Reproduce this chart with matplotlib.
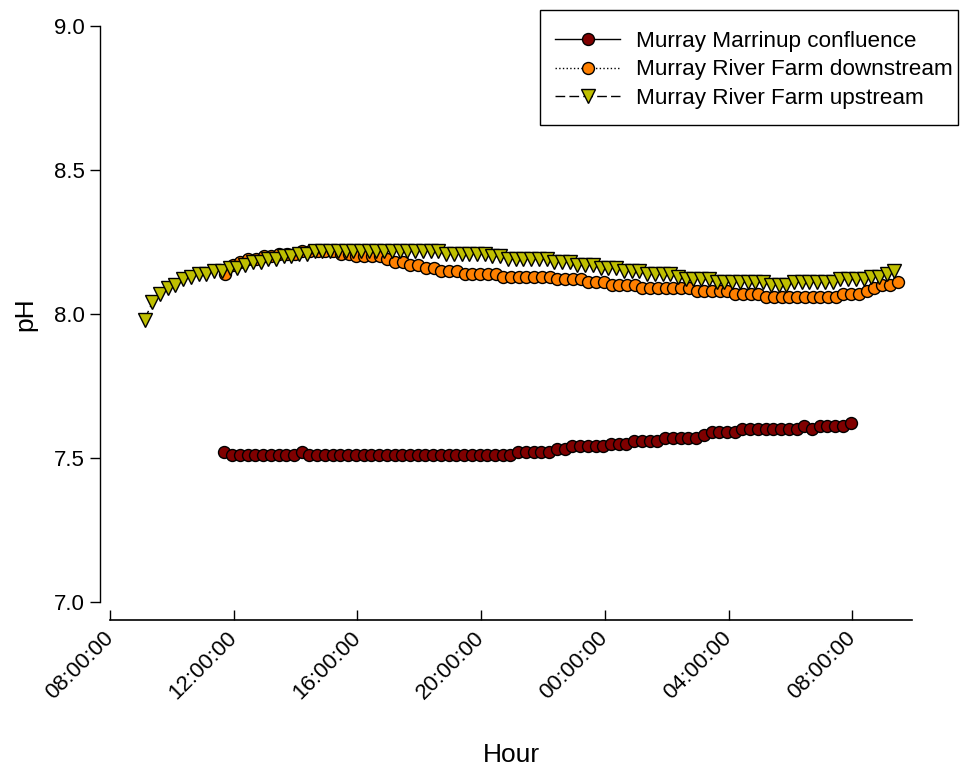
import matplotlib
matplotlib.use("Agg")
import matplotlib.pyplot as plt
import matplotlib.dates as mdates
from matplotlib.patches import Rectangle
import pandas as pd

plt.rcParams['font.family'] = ['Liberation Sans', 'DejaVu Sans']

# pH logged every 15 minutes at three Murray River sites
confluence_start = "2020-01-01 11:42"
confluence_ph = (
    [7.52] + [7.51] * 9 + [7.52] + [7.51] * 27 + [7.52] * 5 + [7.53] * 2
    + [7.54] * 5 + [7.55] * 3 + [7.56] * 4 + [7.57] * 5 + [7.58] + [7.59] * 4
    + [7.60] * 8 + [7.61] + [7.60] + [7.61] * 4 + [7.62]
)

downstream_start = "2020-01-01 11:43"
downstream_ph = (
    [8.14, 8.17, 8.18, 8.19, 8.19, 8.20, 8.20, 8.21, 8.21, 8.21]
    + [8.22] * 5 + [8.21] * 2 + [8.20] * 4 + [8.19] + [8.18] * 2 + [8.17] * 2
    + [8.16] * 2 + [8.15] * 3 + [8.14] * 5 + [8.13] * 7 + [8.12] * 4
    + [8.11] * 3 + [8.10] * 4 + [8.09] * 7 + [8.08] * 5 + [8.07] * 4
    + [8.06] * 10 + [8.07] * 3 + [8.08, 8.09, 8.10, 8.10, 8.11]
)

upstream_start = "2020-01-01 09:07"
upstream_ph = (
    [7.98, 8.04, 8.07, 8.09, 8.10, 8.12, 8.13, 8.14, 8.14, 8.15, 8.15,
     8.16, 8.16, 8.17, 8.18, 8.18, 8.19, 8.19, 8.20, 8.20, 8.21, 8.21]
    + [8.22] * 17 + [8.21] * 6 + [8.20] * 2 + [8.19] * 6 + [8.18] * 3
    + [8.17] * 3 + [8.16] * 3 + [8.15] * 3 + [8.14] * 4 + [8.13] + [8.12] * 4
    + [8.11] * 7 + [8.10] * 3 + [8.11] * 6 + [8.12] * 4 + [8.13] * 2
    + [8.14, 8.15]
)

series_labels = ["Murray Marrinup confluence",
                 "Murray River Farm downstream",
                 "Murray River Farm upstream"]

x_start = "2020-01-01 08:00"
x_end = "2020-01-02 09:56"
y_ticks = [7.0, 7.5, 8.0, 8.5, 9.0]


def times(start, n):
    return pd.date_range(start, periods=n, freq="15min")


W, H = 963, 769
fig = plt.figure(figsize=(W / 100, H / 100), dpi=100)
ax = fig.add_axes([110 / W, (H - 602) / H, (912 - 110) / W, (602 - 26) / H])

ax.plot(times(confluence_start, len(confluence_ph)), confluence_ph,
        color="black", lw=1, ls="-", marker="o", ms=8.6,
        mfc="#800000", mec="black", mew=1, label=series_labels[0], zorder=3)
ax.plot(times(downstream_start, len(downstream_ph)), downstream_ph,
        color="black", lw=1, ls=":", marker="o", ms=8.6,
        mfc="#FF8000", mec="black", mew=1, label=series_labels[1], zorder=4)
ax.plot(times(upstream_start, len(upstream_ph)), upstream_ph,
        color="black", lw=1, ls=(0, (7, 3)), marker="v", ms=10.5,
        mfc="#BFBF00", mec="black", mew=1, label=series_labels[2], zorder=5)

ax.set_xlim(pd.Timestamp(x_start), pd.Timestamp(x_end))
ax.set_ylim(7.0, 9.0)
ax.set_yticks(y_ticks)
ax.set_yticklabels([f"{v:.1f}" for v in y_ticks])

ax.xaxis.set_major_locator(mdates.HourLocator(byhour=[0, 4, 8, 12, 16, 20]))
ax.xaxis.set_major_formatter(mdates.DateFormatter("%H:%M:%S"))

for side in ("top", "right"):
    ax.spines[side].set_visible(False)
ax.spines["left"].set_position(("outward", 7.2))
ax.spines["bottom"].set_position(("outward", 13))
ax.spines["left"].set_linewidth(1.0)
ax.spines["bottom"].set_linewidth(1.2)

ax.tick_params(axis="y", direction="out", length=7, width=1, labelsize=16, pad=4)
ax.tick_params(axis="x", direction="in", length=7, width=1, labelsize=16, pad=11)
for lbl in ax.get_xticklabels():
    lbl.set_rotation(45)
    lbl.set_ha("right")
    lbl.set_va("center")
    lbl.set_rotation_mode("anchor")

ax.set_xlabel("Hour", fontsize=19, va="center")
ax.set_ylabel("pH", fontsize=19, va="center")
ax.xaxis.set_label_coords(511 / W, 1 - 755 / H, transform=fig.transFigure)
ax.yaxis.set_label_coords(25 / W, 1 - 314 / H, transform=fig.transFigure)

# legend box drawn as its own frame, entries placed inside it
frame = Rectangle((540 / W, 1 - 125 / H), 418 / W, 115 / H,
                  transform=fig.transFigure, facecolor="white",
                  edgecolor="black", lw=1.0, zorder=9, clip_on=False)
ax.add_patch(frame)
leg = ax.legend(loc="upper left", bbox_to_anchor=(555 / W, 1 - 31 / H),
                bbox_transform=fig.transFigure, fontsize=16.2,
                frameon=False, handlelength=2.9, borderpad=0,
                labelspacing=0.33, handletextpad=0.72, borderaxespad=0)
leg.set_zorder(10)

fig.savefig("out.png", dpi=100)
